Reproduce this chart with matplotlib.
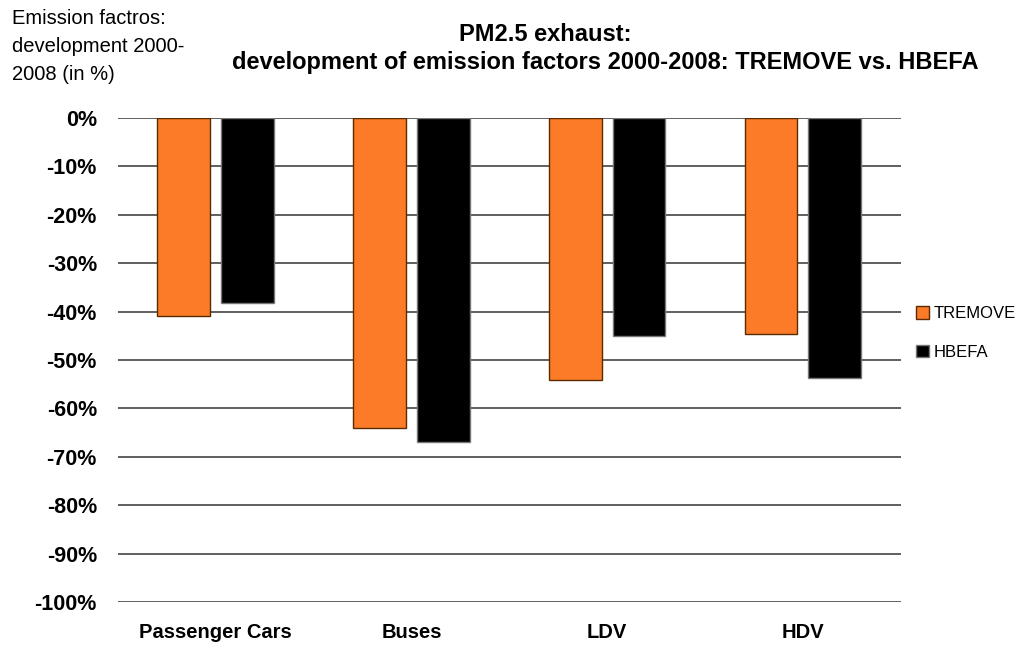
import numpy as np
import matplotlib.pyplot as plt

plt.rcParams['font.family'] = ['Liberation Sans', 'DejaVu Sans']

categories = ['Passenger Cars', 'Buses', 'LDV', 'HDV']
tremove = [-41.0, -64.0, -54.2, -44.6]
hbefa = [-38.3, -66.9, -45.1, -53.8]
yticks = [0, -10, -20, -30, -40, -50, -60, -70, -80, -90, -100]

fig = plt.figure(figsize=(10.33, 6.48), dpi=100)
ax = fig.add_axes([0.114, 0.071, 0.758, 0.747])

x = np.arange(len(categories))
w = 0.27
ax.bar(x - 0.163, tremove, w, color='#FC7B28', edgecolor='#5a2a00', linewidth=1, label='TREMOVE')
ax.bar(x + 0.163, hbefa, w, color='black', edgecolor='#777777', linewidth=1, label='HBEFA')

ax.set_xlim(-0.5, 3.5)
ax.set_ylim(-100, 0)
ax.set_yticks(yticks)
ax.set_yticklabels(['%d%%' % v for v in yticks], fontweight='bold', fontsize=15.5)
ax.set_xticks(x)
ax.set_xticklabels(categories, fontweight='bold', fontsize=14.5)
ax.tick_params(length=0)
ax.tick_params(axis='y', pad=15)
ax.tick_params(axis='x', pad=15)
ax.yaxis.grid(True, color='#444444', linewidth=1.2)
ax.set_axisbelow(True)
for s in ax.spines.values():
    s.set_visible(False)

# title, two lines
fig.text(0.528, 0.946, 'PM2.5 exhaust:', ha='center', va='center', fontsize=17, fontweight='bold')
fig.text(0.586, 0.904, 'development of emission factors 2000-2008: TREMOVE vs. HBEFA',
         ha='center', va='center', fontsize=17, fontweight='bold')
fig.text(0.012, 0.986, 'Emission factros:\ndevelopment 2000-\n2008 (in %)', ha='left', va='top',
         fontsize=14.5, linespacing=1.6)

fig.legend(loc='center left', bbox_to_anchor=(0.872, 0.486), frameon=False, fontsize=12,
           handlelength=0.8, handleheight=0.8, handletextpad=0.3, labelspacing=1.4)

fig.savefig('out.png', dpi=100)
